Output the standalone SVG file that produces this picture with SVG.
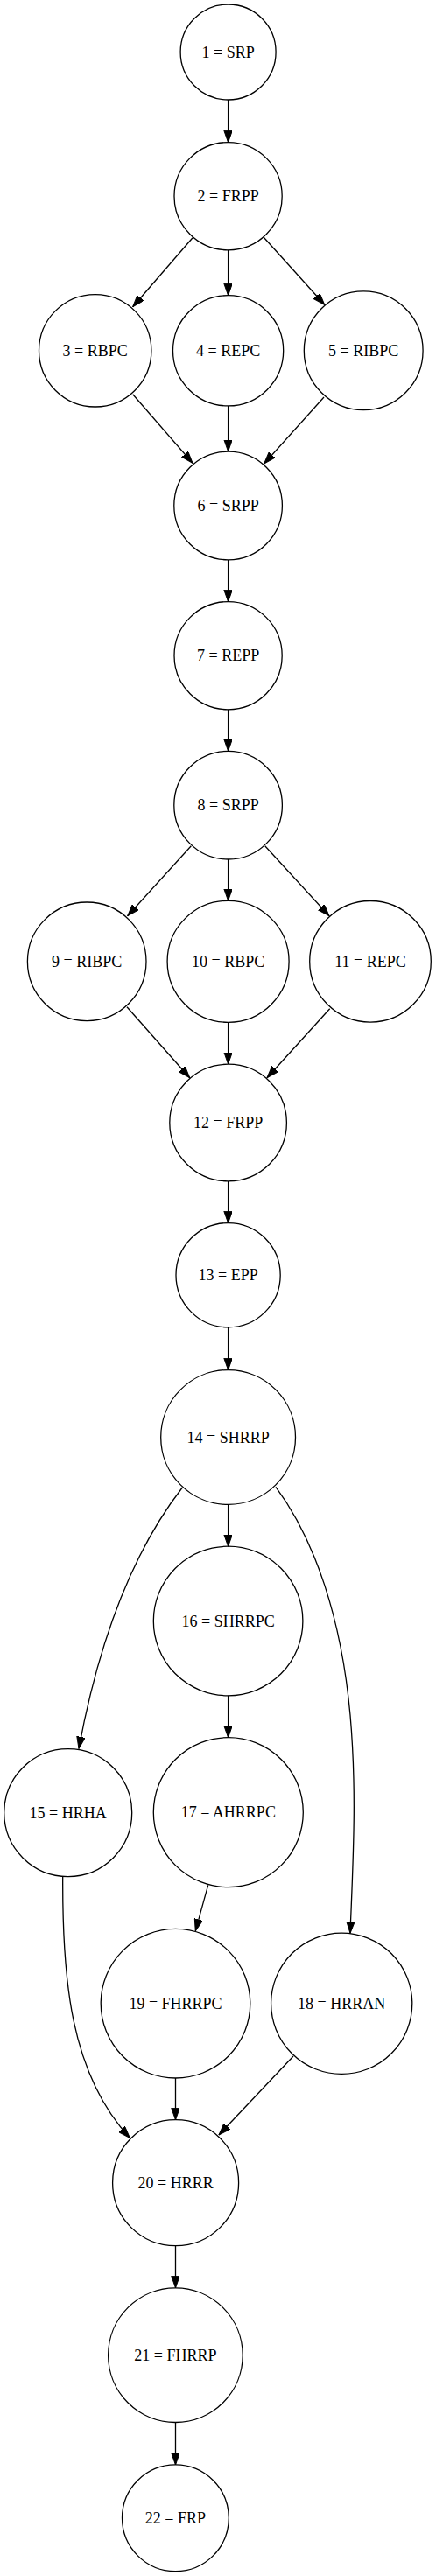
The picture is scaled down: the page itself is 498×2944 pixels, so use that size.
<svg xmlns="http://www.w3.org/2000/svg" width="498" height="2944" viewBox="0 0 498 2944">
<style>
.n circle{fill:none;stroke:#000;stroke-width:1.3}
.n text{font-family:"Liberation Serif","Times New Roman",serif;font-size:18px;text-anchor:middle;fill:#000}
.e path{fill:none;stroke:#000;stroke-width:1.3;marker-end:url(#ah)}
</style>
<defs>
<marker id="ah" markerUnits="userSpaceOnUse" markerWidth="14" markerHeight="10" refX="13.5" refY="4.75" orient="auto">
<path d="M0,0 L13.5,4.75 L0,9.5 z" fill="#000" stroke="#000" stroke-width="1"/>
</marker>
</defs>
<rect width="498" height="2944" fill="#fff"/>
<g id="edges" class="e">
<path d="M260.6,114 L260.6,162.7"/>
<path d="M220,271.7 L151.7,350.7"/>
<path d="M260.6,285.7 L260.6,337.7"/>
<path d="M301.7,271.7 L370.7,348.3"/>
<path d="M151.7,450.7 L220,529.3"/>
<path d="M260.6,464 L260.6,516"/>
<path d="M370,454 L301.7,530"/>
<path d="M260.6,640 L260.6,687.7"/>
<path d="M260.6,810.7 L260.6,858.3"/>
<path d="M218.3,966.7 L145.7,1046.7"/>
<path d="M260.6,982 L260.6,1029.3"/>
<path d="M302.7,966.7 L376,1046.7"/>
<path d="M145,1150.7 L216.7,1231.7"/>
<path d="M260.6,1168.3 L260.6,1216"/>
<path d="M376.7,1152.7 L305,1231.7"/>
<path d="M260.6,1350 L260.6,1397.7"/>
<path d="M260.6,1516.7 L260.6,1565.7"/>
<path d="M260.6,1719.3 L260.6,1767.3"/>
<path d="M208.3,1700 C150,1775 112,1880 90,1998.3"/>
<path d="M315,1699.3 C360,1760 390,1850 400,1960 C408,2050 403,2130 400,2209.3"/>
<path d="M260.6,1937.7 L260.6,1985.7"/>
<path d="M237.7,2154.3 L223.3,2206.7"/>
<path d="M71.7,2144.3 C71,2260 80,2370 148.3,2443.3"/>
<path d="M200.5,2375 L200.5,2422.7"/>
<path d="M335,2350 L250,2440"/>
<path d="M200.5,2566.7 L200.5,2614.7"/>
<path d="M200.5,2768.7 L200.5,2817"/>
</g>
<g id="n1" class="n"><circle cx="260.6" cy="59.5" r="54.5"/><text x="260.6" y="65.7">1 = SRP</text></g>
<g id="n2" class="n"><circle cx="260.6" cy="224.2" r="61.6"/><text x="260.6" y="230.4">2 = FRPP</text></g>
<g id="n3" class="n"><circle cx="108.7" cy="400.8" r="64.2"/><text x="108.7" y="407">3 = RBPC</text></g>
<g id="n4" class="n"><circle cx="260.6" cy="400.8" r="63.1"/><text x="260.6" y="407">4 = REPC</text></g>
<g id="n5" class="n"><circle cx="415.2" cy="400.7" r="67.9"/><text x="415.2" y="406.9">5 = RIBPC</text></g>
<g id="n6" class="n"><circle cx="260.6" cy="578" r="61.8"/><text x="260.6" y="584.2">6 = SRPP</text></g>
<g id="n7" class="n"><circle cx="260.6" cy="749.2" r="61.6"/><text x="260.6" y="755.4">7 = REPP</text></g>
<g id="n8" class="n"><circle cx="260.6" cy="920.2" r="61.8"/><text x="260.6" y="926.4">8 = SRPP</text></g>
<g id="n9" class="n"><circle cx="99.2" cy="1098.8" r="67.8"/><text x="99.2" y="1105">9 = RIBPC</text></g>
<g id="n10" class="n"><circle cx="260.6" cy="1098.8" r="69.5"/><text x="260.6" y="1105">10 = RBPC</text></g>
<g id="n11" class="n"><circle cx="423" cy="1098.8" r="69.3"/><text x="423" y="1105">11 = REPC</text></g>
<g id="n12" class="n"><circle cx="260.6" cy="1283" r="66.8"/><text x="260.6" y="1289.2">12 = FRPP</text></g>
<g id="n13" class="n"><circle cx="260.6" cy="1457.2" r="59.6"/><text x="260.6" y="1463.4">13 = EPP</text></g>
<g id="n14" class="n"><circle cx="260.6" cy="1642.5" r="76.9"/><text x="260.6" y="1648.7">14 = SHRRP</text></g>
<g id="n16" class="n"><circle cx="260.6" cy="1852.5" r="85.3"/><text x="260.6" y="1858.7">16 = SHRRPC</text></g>
<g id="n15" class="n"><circle cx="77.7" cy="2071.6" r="73"/><text x="77.7" y="2077.8">15 = HRHA</text></g>
<g id="n17" class="n"><circle cx="260.8" cy="2071.2" r="85.5"/><text x="260.8" y="2077.4">17 = AHRRPC</text></g>
<g id="n19" class="n"><circle cx="200.5" cy="2289.7" r="85.3"/><text x="200.5" y="2295.9">19 = FHRRPC</text></g>
<g id="n18" class="n"><circle cx="390.2" cy="2289.8" r="80.6"/><text x="390.2" y="2296">18 = HRRAN</text></g>
<g id="n20" class="n"><circle cx="200.6" cy="2494.7" r="72"/><text x="200.6" y="2500.9">20 = HRRR</text></g>
<g id="n21" class="n"><circle cx="200.4" cy="2691.7" r="76.8"/><text x="200.4" y="2697.9">21 = FHRRP</text></g>
<g id="n22" class="n"><circle cx="200.4" cy="2877.8" r="60.9"/><text x="200.4" y="2884">22 = FRP</text></g>
</svg>
